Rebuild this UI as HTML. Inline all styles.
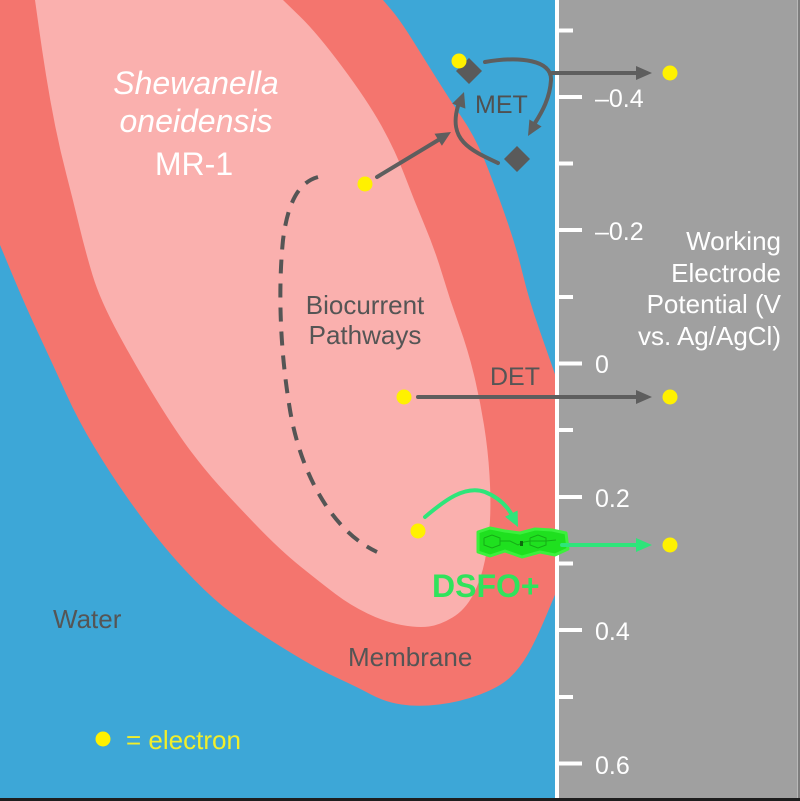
<!DOCTYPE html>
<html>
<head>
<meta charset="utf-8">
<style>
  html,body{margin:0;padding:0;background:#3DA7D7;}
  svg{display:block;}
  text{font-family:"Liberation Sans", Arial, sans-serif;}
</style>
</head>
<body>
<svg width="800" height="801" viewBox="0 0 800 801" xmlns="http://www.w3.org/2000/svg">
  <!-- water -->
  <rect x="0" y="0" width="800" height="801" fill="#3DA7D7"/>
  <!-- membrane -->
  <path fill="#F4756E" d="M0,0 L383,0 L391.5,10 Q400,20 412.5,40 Q425,60 437.5,80 Q450,100 463.5,120 Q477,140 488.5,170 Q500,200 508.5,225 Q517,250 523,275 Q529,300 539.5,330 Q550,360 553.5,370 L557,380 L557,590 L546.5,615 Q536,640 528,654 Q520,668 510,677.5 Q500,687 480,694.5 Q460,702 439,704.5 Q418,707 401.5,704.5 Q385,702 371,694.5 Q357,687 338.5,678.5 Q320,670 303,660 Q286,650 268,638.5 Q250,627 232,613.5 Q214,600 194.5,580 Q175,560 159,540 Q143,520 126.5,496.5 Q110,473 94,446.5 Q78,420 66,393.5 Q54,367 39.5,336 Q25,305 12.5,275 L0,245 Z"/>
  <!-- cytoplasm -->
  <path fill="#FAB0AE" d="M35,0 L283,0 L300,16.5 Q317,33 342,66.5 Q367,100 381,125 Q395,150 404.5,175 Q414,200 424.5,225 Q435,250 442.5,275 Q450,300 459,325 Q468,350 474,375 Q480,400 484,425 Q488,450 489.5,475 Q491,500 490,520 Q489,540 485,560 Q481,580 473,595 Q465,610 452.5,617.5 Q440,625 429,626.5 Q418,628 401.5,625 Q385,622 367.5,613.5 Q350,605 335.5,594 Q321,583 300.5,566.5 Q280,550 256,525 Q232,500 218.5,485 Q205,470 191,451.5 Q177,433 157.5,401.5 Q138,370 119,335 Q100,300 92.5,275 Q85,250 79,225 Q73,200 66.5,175 Q60,150 55,125 Q50,100 46,75 Q42,50 38.5,25 Z"/>
  <!-- electrode region -->
  <rect x="557" y="0" width="243" height="801" fill="#A0A0A0"/>
  <rect x="555" y="0" width="4" height="801" fill="#FFFFFF"/>
  <!-- ticks -->
  <g fill="#FFFFFF">
    <rect x="557" y="28.5" width="16" height="4"/>
    <rect x="557" y="95" width="25" height="4"/>
    <rect x="557" y="161.5" width="16" height="4"/>
    <rect x="557" y="228" width="25" height="4"/>
    <rect x="557" y="295" width="16" height="4"/>
    <rect x="557" y="361.5" width="25" height="4"/>
    <rect x="557" y="428" width="16" height="4"/>
    <rect x="557" y="495" width="25" height="4"/>
    <rect x="557" y="561.5" width="16" height="4"/>
    <rect x="557" y="628" width="25" height="4"/>
    <rect x="557" y="695" width="16" height="4"/>
    <rect x="557" y="761.5" width="25" height="4"/>
  </g>
  <g fill="#FFFFFF" font-size="25">
    <text x="595" y="107">–0.4</text>
    <text x="595" y="240">–0.2</text>
    <text x="595" y="373">0</text>
    <text x="595" y="507">0.2</text>
    <text x="595" y="640">0.4</text>
    <text x="595" y="774">0.6</text>
  </g>
  <g fill="#FFFFFF" font-size="26" text-anchor="end">
    <text x="781" y="250">Working</text>
    <text x="781" y="282">Electrode</text>
    <text x="781" y="313">Potential (V</text>
    <text x="781" y="345">vs. Ag/AgCl)</text>
  </g>

  <!-- cell labels -->
  <g fill="#FFFFFF" font-size="32" text-anchor="middle">
    <text x="196" y="94" font-style="italic">Shewanella</text>
    <text x="196" y="132" font-style="italic">oneidensis</text>
    <text x="194" y="175">MR-1</text>
  </g>
  <g fill="#555555" font-size="26">
    <text x="365" y="314" text-anchor="middle">Biocurrent</text>
    <text x="365" y="344" text-anchor="middle">Pathways</text>
    <text x="53" y="628">Water</text>
    <text x="348" y="666">Membrane</text>
  </g>
  <text x="475" y="113" fill="#505050" font-size="25">MET</text>
  <text x="490" y="385" fill="#555555" font-size="25">DET</text>

  <!-- dashed biocurrent pathway -->
  <path d="M318,177 C300,182 288,200 283,240 C278,290 280,350 290,410 C300,470 330,530 377,552" fill="none" stroke="#555555" stroke-width="4" stroke-dasharray="14 10"/>

  <!-- MET diamonds -->
  <g fill="#5A5A5A">
    <polygon points="469,58 482,71 469,84 456,71"/>
    <polygon points="517,146 530,159 517,172 504,159"/>
  </g>

  <!-- gray arrows -->
  <g stroke="#5E5E5E" stroke-width="4" fill="none" stroke-linecap="round">
    <line x1="377" y1="177" x2="440" y2="139"/>
    <path d="M498,163 C470,150 448,140 458,106"/>
    <path d="M485,62 C520,56 552,60 551,80 C550,98 542,112 535,123"/>
    <line x1="552" y1="73" x2="638" y2="73"/>
    <line x1="418" y1="397" x2="638" y2="397"/>
  </g>
  <g fill="#5E5E5E">
    <polygon points="451,132 441.9,145.8 434.5,133.8"/>
    <polygon points="464,92 465.4,108.6 452.2,103.6"/>
    <polygon points="528,136 541.6,126.5 529.4,119.5"/>
    <polygon points="652,73 636,66 636,80"/>
    <polygon points="652,397 636,390 636,404"/>
  </g>

  <!-- DSFO+ molecule -->
  <path d="M478,532 L490,528 L505,531 L520,533 L535,529 L552,530 L566,533 L568,549 L555,555 L540,552 L522,557 L505,551 L490,556 L478,552 Z" fill="#1FE01F" stroke="#3CF03C" stroke-width="3" stroke-linejoin="round"/>
  <g stroke="#14A014" stroke-width="1" fill="none" opacity="0.8">
    <polyline points="484,538 492,535 500,538 500,545 492,548 484,545 484,538"/>
    <polyline points="500,541 510,541 518,545 524,542"/>
    <polyline points="530,538 538,535 546,538 546,545 538,548 530,545 530,538"/>
    <polyline points="524,542 530,541 546,541 556,540"/>
  </g>
  <rect x="520" y="541" width="3" height="5" fill="#0E6A0E"/>

  <!-- green arrows -->
  <g stroke="#2FE57A" stroke-width="4" fill="none" stroke-linecap="round">
    <path d="M425,517 C445,500 465,485 485,492 C500,498 508,508 512,515"/>
    <line x1="562" y1="545" x2="638" y2="545"/>
  </g>
  <g fill="#2FE57A">
    <polygon points="518,527 517.6,510.5 505,516.7"/>
    <polygon points="652,545 636,538 636,552"/>
  </g>
  <text x="432" y="597" fill="#30E35C" font-size="32" font-weight="bold">DSFO+</text>

  <!-- electrons -->
  <g fill="#FFF100">
    <circle cx="459" cy="61" r="7.5"/>
    <circle cx="670" cy="73" r="7.5"/>
    <circle cx="365" cy="184" r="7.5"/>
    <circle cx="404" cy="397" r="7.5"/>
    <circle cx="670" cy="397" r="7.5"/>
    <circle cx="418" cy="531" r="7.5"/>
    <circle cx="670" cy="545" r="7.5"/>
    <circle cx="103" cy="739" r="7.5"/>
  </g>
  <text x="126" y="749" fill="#F2EE2A" font-size="26">= electron</text>

  <!-- borders -->
  <rect x="0" y="798" width="800" height="3" fill="#1E1E1E"/>
  <rect x="797" y="0" width="1" height="798" fill="#B8B8B8"/>
  <rect x="798" y="0" width="2" height="798" fill="#7E7E7E"/>
</svg>
</body>
</html>
